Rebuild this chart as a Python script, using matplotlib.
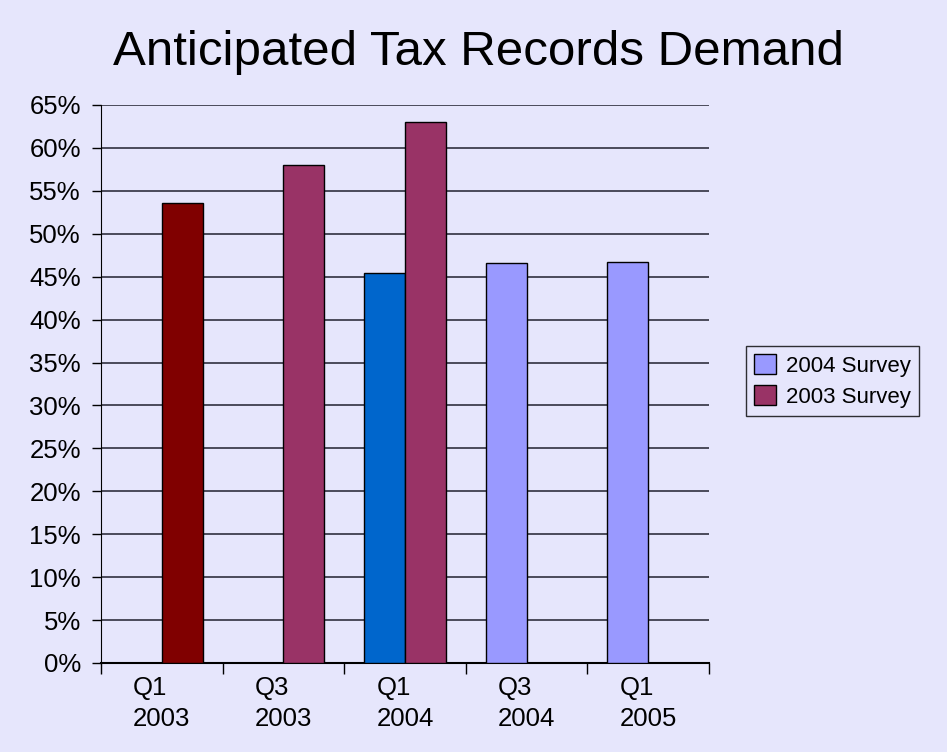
import numpy as np
import matplotlib
matplotlib.use('Agg')
import matplotlib.pyplot as plt
from matplotlib.ticker import FuncFormatter

plt.rcParams['font.family'] = ['Liberation Sans', 'DejaVu Sans']

# quarters on the x axis
quarters = ['Q1\n2003', 'Q3\n2003', 'Q1\n2004', 'Q3\n2004', 'Q1\n2005']
# share of respondents (%), NaN where a survey has no estimate
survey_2004 = [np.nan, np.nan, 45.4, 46.6, 46.7]
survey_2003 = [53.6, 58.0, 63.0, np.nan, np.nan]

bg = '#E6E6FC'
c2004 = '#9999FF'
c2003 = '#993366'
# individually highlighted points
c2004_pts = [c2004, c2004, '#0066CC', c2004, c2004]
c2003_pts = ['#800000', c2003, c2003, c2003, c2003]

fig = plt.figure(figsize=(9.47, 7.52), dpi=100, facecolor=bg)
ax = fig.add_axes([101 / 947, 89 / 752, 608 / 947, 558 / 752])
ax.set_facecolor(bg)

x = np.arange(len(quarters))
w = 0.335
ax.bar(x - w / 2, survey_2004, w, color=c2004_pts, edgecolor='black',
       linewidth=1, zorder=3, label='2004 Survey')
ax.bar(x + w / 2, survey_2003, w, color=c2003_pts, edgecolor='black',
       linewidth=1, zorder=3, label='2003 Survey')

ax.set_xlim(-0.5, len(quarters) - 0.5)
ax.set_ylim(0, 65)
ax.set_yticks(np.arange(0, 66, 5))
ax.yaxis.set_major_formatter(FuncFormatter(lambda v, p: f'{v:.0f}%'))
ax.yaxis.grid(True, color='#4a4a5a', linewidth=1.4, zorder=1)
ax.set_axisbelow(True)

# category boundaries as tick marks, labels centred between them
ax.set_xticks(np.arange(len(quarters) + 1) - 0.5)
ax.set_xticklabels([])
ax.set_xticks(x, minor=True)
ax.set_xticklabels(quarters, minor=True, fontsize=18.5, linespacing=1.38,
                   multialignment='left')
ax.tick_params(axis='x', which='minor', length=0, pad=9)
ax.tick_params(axis='x', which='major', length=8, width=1, color='black')
ax.tick_params(axis='y', length=6.5, width=1, labelsize=18.5, pad=8)

for s in ['top', 'right']:
    ax.spines[s].set_visible(False)
ax.spines['left'].set_color('black')
ax.spines['bottom'].set_color('black')
ax.spines['bottom'].set_linewidth(1.5)

fig.text(478.5 / 947, 1 - 65 / 752, 'Anticipated Tax Records Demand',
         fontsize=35.5, ha='center', va='baseline')

leg = fig.legend(loc='center left', bbox_to_anchor=(746 / 947, 1 - 381 / 752),
                 fontsize=16, frameon=True, fancybox=False,
                 handlelength=1.0, handleheight=1.0, handletextpad=0.45,
                 borderpad=0.35, labelspacing=0.4, borderaxespad=0)
leg.get_frame().set_facecolor(bg)
leg.get_frame().set_edgecolor('black')
leg.legend_handles[0].set_facecolor(c2004)
leg.legend_handles[1].set_facecolor(c2003)

fig.savefig('out.png', dpi=100, facecolor=bg)
